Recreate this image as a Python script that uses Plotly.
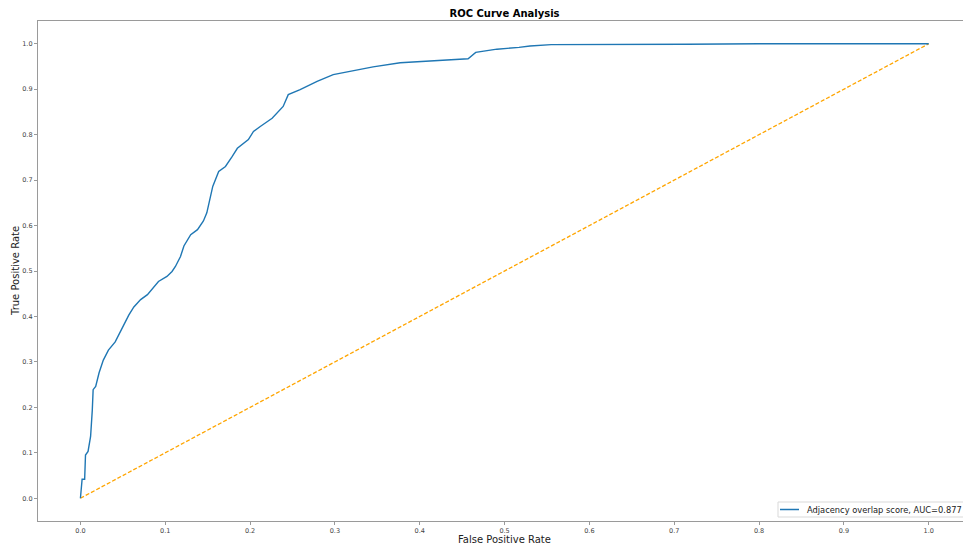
import plotly.graph_objects as go

# ROC curve points
fpr = [0.000, 0.002, 0.005, 0.006, 0.009, 0.012, 0.014, 0.015, 0.018, 0.020,
       0.022, 0.027, 0.033, 0.041, 0.049, 0.057, 0.063, 0.071, 0.079, 0.086,
       0.092, 0.102, 0.108, 0.112, 0.118, 0.122, 0.130, 0.138, 0.145, 0.149,
       0.153, 0.156, 0.163, 0.171, 0.179, 0.185, 0.198, 0.204, 0.212, 0.226,
       0.239, 0.245, 0.259, 0.279, 0.298, 0.318, 0.345, 0.377, 0.416, 0.457,
       0.466, 0.491, 0.517, 0.530, 0.555, 0.620, 0.715, 0.800, 1.000]
tpr = [0.000, 0.042, 0.042, 0.095, 0.103, 0.136, 0.194, 0.239, 0.246, 0.261,
       0.276, 0.304, 0.326, 0.344, 0.374, 0.403, 0.421, 0.437, 0.448, 0.463,
       0.477, 0.488, 0.499, 0.510, 0.532, 0.555, 0.580, 0.591, 0.610, 0.628,
       0.658, 0.686, 0.719, 0.730, 0.752, 0.770, 0.789, 0.807, 0.818, 0.836,
       0.862, 0.888, 0.899, 0.917, 0.932, 0.939, 0.949, 0.958, 0.963, 0.967,
       0.981, 0.988, 0.992, 0.995, 0.998, 0.998, 0.999, 1.000, 1.000]

chance_x = [0.0, 1.0]
chance_y = [0.0, 1.0]

tick_vals = [0.0, 0.1, 0.2, 0.3, 0.4, 0.5, 0.6, 0.7, 0.8, 0.9, 1.0]
tick_text = ["0.0", "0.1", "0.2", "0.3", "0.4", "0.5", "0.6", "0.7", "0.8", "0.9", "1.0"]

series_name = "Adjacency overlap score, AUC=0.877"
title_text = "ROC Curve Analysis"
x_label = "False Positive Rate"
y_label = "True Positive Rate"

FONT = "DejaVu Sans"
SPINE = "#9a9a9a"
BLUE = "#1f77b4"

W, H = 963, 549
PL, PT, PB = 38, 21, 521          # plot area edges in window pixels
PR = W                            # visible right edge of plot area
x0_px, unit_px = 80.0, 848.7
xmax = (PR - x0_px) / unit_px
PW, PH = PR - PL, PB - PT


def px(xw):
    return (xw - PL) / PW


def py(yw):
    return (PB - yw) / PH


fig = go.Figure()
fig.add_trace(go.Scatter(
    x=chance_x, y=chance_y, mode="lines", showlegend=False,
    line=dict(color="#FFA500", width=1.3, dash="4px,2px"), hoverinfo="skip"))
fig.add_trace(go.Scatter(
    x=fpr, y=tpr, mode="lines", name=series_name, showlegend=False,
    line=dict(color=BLUE, width=1.4)))

# legend (drawn by hand so it can run off the right edge like the reference)
leg_top, leg_bot, leg_left = 502, 517, 778
fig.add_shape(type="rect", xref="paper", yref="paper",
              x0=px(leg_left), x1=px(W + 20), y0=py(leg_bot), y1=py(leg_top),
              line=dict(color="#d9d9d9", width=1), fillcolor="rgba(255,255,255,0.9)",
              layer="above")
fig.add_shape(type="line", xref="paper", yref="paper",
              x0=px(780), x1=px(799), y0=py(509.5), y1=py(509.5),
              line=dict(color=BLUE, width=1.5), layer="above")

fig.update_layout(
    width=W, height=H,
    margin=dict(l=PL, r=0, t=PT, b=H - PB, pad=0),
    paper_bgcolor="white", plot_bgcolor="white",
    font=dict(family=FONT, color="#333333"),
    showlegend=False,
    title=dict(text="<b>" + title_text + "</b>", x=504.5 / W, xref="container",
               y=1 - 13.5 / H, yref="container", xanchor="center", yanchor="middle",
               font=dict(size=10, color="black", family=FONT)),
    xaxis=dict(range=[-0.05, xmax], tickvals=tick_vals, ticktext=tick_text,
               showgrid=False, zeroline=False, showline=True, mirror=True,
               linecolor=SPINE, linewidth=1.3, ticks="outside", ticklen=3,
               tickcolor=SPINE, tickfont=dict(size=6.5, color="#444444", family=FONT)),
    yaxis=dict(range=[-0.05, 1.05], tickvals=tick_vals, ticktext=tick_text,
               showgrid=False, zeroline=False, showline=True, mirror=False,
               linecolor=SPINE, linewidth=1.3, ticks="outside", ticklen=3,
               tickcolor=SPINE, tickfont=dict(size=6.5, color="#444444", family=FONT)),
    annotations=[
        dict(text=x_label, xref="paper", yref="paper", x=px(504.5),
             y=py(539), xanchor="center", yanchor="middle", showarrow=False,
             font=dict(size=10, color="#222222", family=FONT)),
        dict(text=y_label, xref="paper", yref="paper", x=px(15),
             y=0.5, xanchor="center", yanchor="middle", textangle=-90, showarrow=False,
             font=dict(size=10, color="#222222", family=FONT)),
        dict(text=series_name, xref="paper", yref="paper", x=px(805),
             y=py(509.5), xanchor="left", yanchor="middle", showarrow=False,
             font=dict(size=8.3, color="#222222", family=FONT)),
    ],
)

fig.write_html(
    "out.html",
    config={"displayModeBar": False, "responsive": False},
    post_script="document.body.style.margin='0';document.body.style.overflow='hidden';",
)
